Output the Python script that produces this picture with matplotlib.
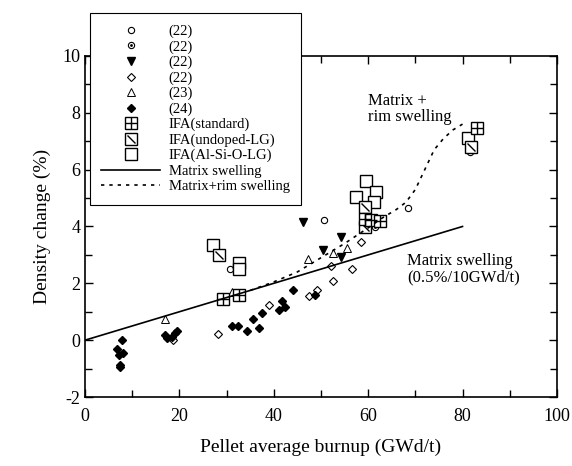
import matplotlib
matplotlib.use("Agg")
import matplotlib.pyplot as plt
from matplotlib.path import Path
from matplotlib.legend_handler import HandlerTuple

plt.rcParams['font.family'] = ['Liberation Serif', 'DejaVu Serif']
plt.rcParams['axes.unicode_minus'] = False

# data
circ22_x = [30.7, 50.6, 68.4, 81.6]
circ22_y = [2.52, 4.23, 4.66, 6.63]
dot22_x = [61.4]
dot22_y = [3.97]
tri22_x = [46.3, 50.5, 54.2, 54.2]
tri22_y = [4.15, 3.18, 3.64, 2.93]
dia22_x = [18.7, 28.2, 39.0, 47.5, 49.1, 52.1, 52.6, 56.5, 58.4]
dia22_y = [0.0, 0.21, 1.23, 1.55, 1.76, 2.6, 2.09, 2.5, 3.46]
tri23_x = [16.9, 31.1, 47.3, 52.6, 55.6]
tri23_y = [0.74, 1.7, 2.84, 3.05, 3.25]
dia24_x = [7.9, 6.8, 8.1, 7.3, 7.4, 7.4, 16.9, 17.4, 18.4, 19.0, 19.4,
           31.2, 32.5, 34.3, 35.5, 36.9, 37.6, 41.1, 41.8, 42.4, 44.1, 48.7]
dia24_y = [0.0, -0.3, -0.45, -0.53, -0.86, -0.94, 0.18, 0.09, 0.12, 0.24, 0.32,
           0.5, 0.5, 0.32, 0.73, 0.43, 0.94, 1.06, 1.37, 1.15, 1.78, 1.58]
ifa_std_x = [29.3, 32.7, 59.3, 60.7, 62.5, 83.0]
ifa_std_y = [1.44, 1.58, 4.25, 4.23, 4.19, 7.48]
ifa_und_x = [28.5, 59.3, 59.3, 81.8]
ifa_und_y = [3.0, 4.67, 3.99, 6.81]
ifa_al_x = [27.2, 32.7, 32.7, 59.5, 57.4, 61.7, 61.3, 81.2]
ifa_al_y = [3.36, 2.73, 2.52, 5.6, 5.05, 5.23, 4.87, 7.12]

matrix_x = [0, 80]
matrix_y = [0, 4.0]
rim_x = [35, 40, 45, 50, 55, 60, 63, 66, 68, 70, 72, 74, 76, 78, 80]
rim_y = [1.75, 2.05, 2.4, 2.9, 3.4, 3.95, 4.3, 4.6, 4.85, 5.3, 6.0, 6.7, 7.1, 7.4, 7.6]

fig = plt.figure(figsize=(5.72, 4.66), dpi=100)
ax = fig.add_axes([0.1486, 0.148, 0.825, 0.732])

sq = 8
h_circ, = ax.plot(circ22_x, circ22_y, 'o', ms=4.5, mfc='white', mec='black', mew=0.8, ls='none')
h_dot1, = ax.plot(dot22_x, dot22_y, 'o', ms=4.5, mfc='white', mec='black', mew=0.8, ls='none')
h_dot2, = ax.plot(dot22_x, dot22_y, '.', ms=2, color='black', ls='none')
h_tri22, = ax.plot(tri22_x, tri22_y, 'v', ms=6, color='black', ls='none')
h_dia22, = ax.plot(dia22_x, dia22_y, 'D', ms=4, mfc='white', mec='black', mew=0.8, ls='none')
h_tri23, = ax.plot(tri23_x, tri23_y, '^', ms=5.5, mfc='white', mec='black', mew=0.7, ls='none')
h_dia24, = ax.plot(dia24_x, dia24_y, 'D', ms=4.5, color='black', ls='none')

diag = Path([(-0.5, 0.5), (0.5, -0.5)], [Path.MOVETO, Path.LINETO])

h_al, = ax.plot(ifa_al_x, ifa_al_y, 's', ms=sq, mfc='white', mec='black', mew=1.0, ls='none')
h_und1, = ax.plot(ifa_und_x, ifa_und_y, 's', ms=sq, mfc='white', mec='black', mew=1.0, ls='none')
h_und2, = ax.plot(ifa_und_x, ifa_und_y, marker=diag, ms=sq * 0.72, mec='black', mew=1.0, ls='none')
h_std1, = ax.plot(ifa_std_x, ifa_std_y, 's', ms=sq, mfc='white', mec='black', mew=1.0, ls='none')
h_std2, = ax.plot(ifa_std_x, ifa_std_y, '+', ms=sq, mec='black', mew=1.0, ls='none')

h_mat, = ax.plot(matrix_x, matrix_y, '-', color='black', lw=1.2)
h_rim, = ax.plot(rim_x, rim_y, color='black', lw=1.2, ls=(0, (2, 3)))

ax.text(60.0, 8.7, "Matrix +\nrim swelling", fontsize=12, ha='left', va='top', linespacing=1.0)
ax.text(68.2, 3.06, "Matrix swelling\n(0.5%/10GWd/t)", fontsize=12, ha='left', va='top', linespacing=1.0)

ax.set_xlim(0, 100)
ax.set_ylim(-2, 10)
ax.set_xticks(range(0, 101, 20))
ax.set_xticks(range(0, 101, 10), minor=True)
ax.set_yticks(range(-2, 11, 2))
ax.set_yticks(range(-2, 11, 1), minor=True)
ax.tick_params(which='both', direction='in', top=True, right=True, labelsize=13, width=1)
ax.tick_params(which='major', length=6)
ax.tick_params(which='minor', length=5)
ax.tick_params(axis='x', pad=8)
for s in ax.spines.values():
    s.set_linewidth(1.2)

ax.set_xlabel("Pellet average burnup (GWd/t)", fontsize=14, labelpad=10)
ax.set_ylabel("Density change (%)", fontsize=14, labelpad=8)

handles = [h_circ, (h_dot1, h_dot2), h_tri22, h_dia22, h_tri23, h_dia24,
           (h_std1, h_std2), (h_und1, h_und2), h_al, h_mat, h_rim]
labels = ["(22)", "(22)", "(22)", "(22)", "(23)", "(24)",
          "IFA(standard)", "IFA(undoped-LG)", "IFA(Al-Si-O-LG)",
          "Matrix swelling", "Matrix+rim swelling"]
leg = ax.legend(handles, labels, loc='upper left', bbox_to_anchor=(0.157, 0.972),
                bbox_transform=fig.transFigure, borderaxespad=0, fontsize=10.5,
                frameon=True, fancybox=False, edgecolor='black', framealpha=1,
                handlelength=4.0, handletextpad=0.6, labelspacing=0.14,
                borderpad=0.8, numpoints=1,
                handler_map={tuple: HandlerTuple(ndivide=1)})
leg.get_frame().set_linewidth(0.8)
leg.set_zorder(10)

fig.savefig("out.png", dpi=100)
